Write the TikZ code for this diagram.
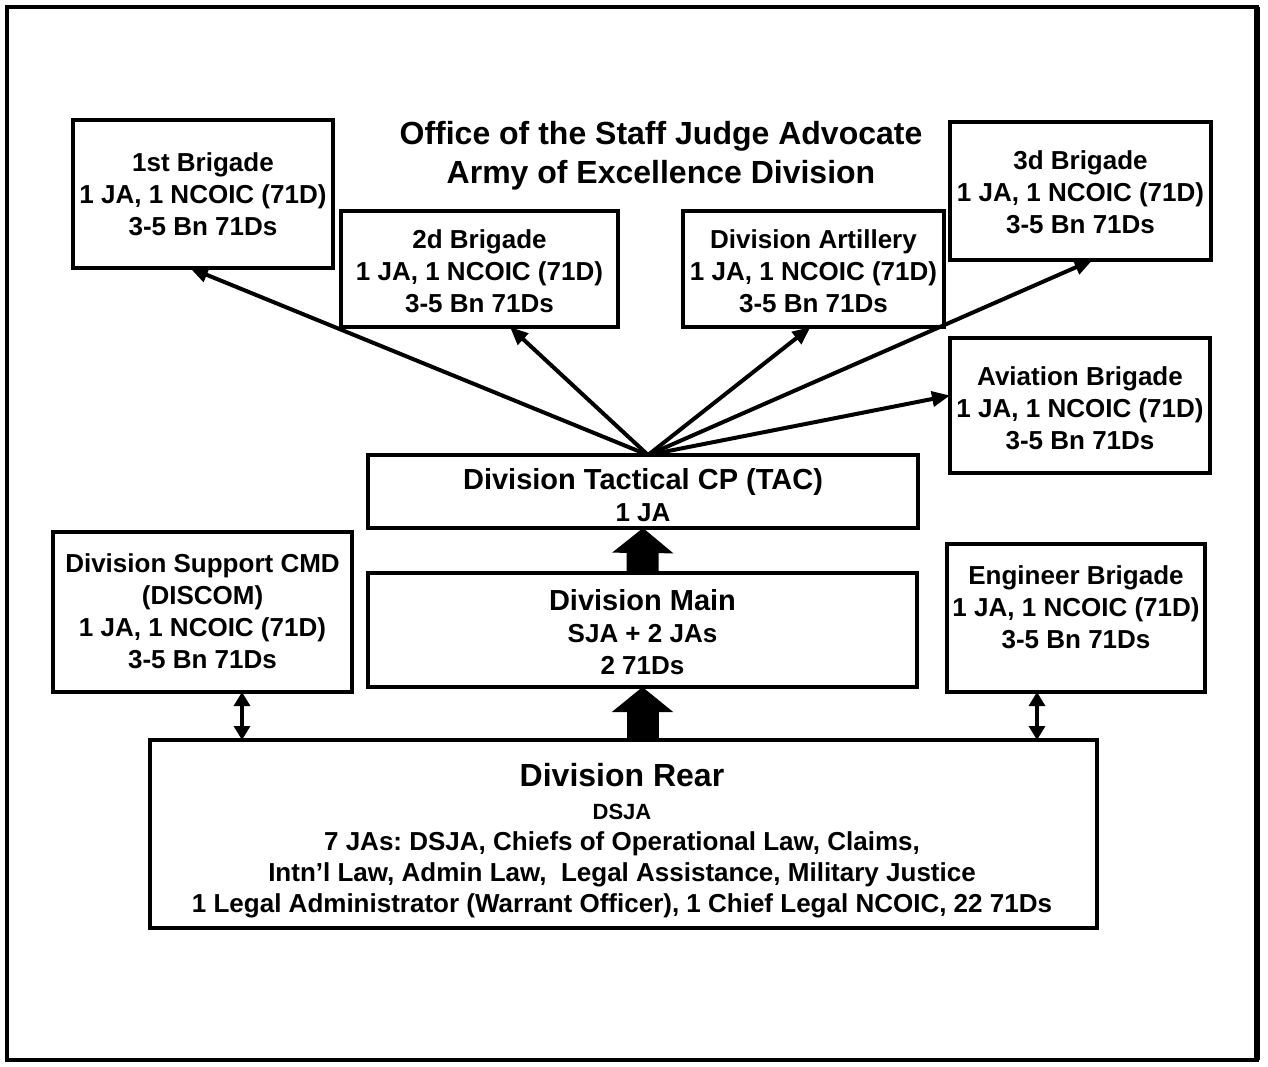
\documentclass[tikz,border=0pt]{standalone}
\usepackage{fontspec}
\setmainfont{Liberation Sans}
\usetikzlibrary{arrows.meta,calc}
\begin{document}
\frenchspacing
\begin{tikzpicture}[x=0.5pt,y=-0.5pt,
  box/.style={draw, line width=1.8pt, inner sep=0pt, outer sep=0pt},
  txt/.style={align=center, inner sep=0pt, font=\bfseries\fontsize{13}{16}\selectfont},
  thinarrow/.style={line width=2pt, -{Triangle[length=9pt,width=7.5pt]}},
  dblarrow/.style={line width=1.6pt, {Triangle[length=7pt,width=8pt]}-{Triangle[length=7pt,width=8pt]}},
  blockarrow/.style={line width=16pt, -{Triangle[length=12.5pt,width=30pt]}}]
\useasboundingbox (0,0) rectangle (1268,1066);
% frame
\draw[line width=2.2pt] (7,7) rectangle (1257,1060);
\draw[line width=3pt] (1257,7) -- (1257,1060);
% boxes
\node[box, minimum width=130pt, minimum height=74pt] (b1) at (203,194) {};
\node[box, minimum width=138.5pt, minimum height=58pt] (b2) at (479.5,269) {};
\node[box, minimum width=130.5pt, minimum height=58pt] (art) at (813.5,269) {};
\node[box, minimum width=130.5pt, minimum height=69pt] (b3) at (1080.5,191) {};
\node[box, minimum width=130pt, minimum height=67.5pt] (av) at (1080,405.5) {};
\node[box, minimum width=275pt, minimum height=36.5pt] (tac) at (643,491.5) {};
\node[box, minimum width=149.5pt, minimum height=80pt] (disc) at (202.5,612) {};
\node[box, minimum width=274.5pt, minimum height=57pt] (main) at (642.5,630) {};
\node[box, minimum width=129pt, minimum height=74pt] (eng) at (1076,618) {};
\node[box, minimum width=473.5pt, minimum height=94pt] (rear) at (623.5,834) {};
% texts
\node[txt, font=\bfseries\fontsize{16}{19.5}\selectfont] (title) at (661,156) {Office of the Staff Judge Advocate\\Army of Excellence Division};
\node[txt] (b1t) at (203,194.5) {1st Brigade\\1 JA, 1 NCOIC (71D)\\3-5 Bn 71Ds};
\node[txt] (b2t) at (479.5,271) {2d Brigade\\1 JA, 1 NCOIC (71D)\\3-5 Bn 71Ds};
\node[txt] (artt) at (813.5,271) {Division Artillery\\1 JA, 1 NCOIC (71D)\\3-5 Bn 71Ds};
\node[txt] (b3t) at (1080.5,192) {3d Brigade\\1 JA, 1 NCOIC (71D)\\3-5 Bn 71Ds};
\node[txt] (avt) at (1080,408) {Aviation Brigade\\1 JA, 1 NCOIC (71D)\\3-5 Bn 71Ds};
\node[txt] (tact) at (643,495) {{\fontsize{14.5}{16}\selectfont Division Tactical CP (TAC)}\\1 JA};
\node[txt] (disct) at (202.5,611) {Division Support CMD\\(DISCOM)\\1 JA, 1 NCOIC (71D)\\3-5 Bn 71Ds};
\node[txt] (maint) at (642.5,632) {{\fontsize{14.5}{16}\selectfont Division Main}\\SJA + 2 JAs\\2 71Ds};
\node[txt] (engt) at (1076,607) {Engineer Brigade\\1 JA, 1 NCOIC (71D)\\3-5 Bn 71Ds};
\node[txt, font=\bfseries\fontsize{13}{15.5}\selectfont] (reart) at (622,841) {{\fontsize{16}{18}\selectfont Division Rear}\\[1pt]{\fontsize{11}{15.5}\selectfont DSJA}\\7 JAs: DSJA, Chiefs of Operational Law, Claims,\\Intn’l Law, Admin Law,\ \ Legal Assistance, Military Justice\\1 Legal Administrator (Warrant Officer), 1 Chief Legal NCOIC, 22 71Ds};
% thin arrows from TAC
\coordinate (tacc) at ($(tac.north)+(5,0)$);
\draw[thinarrow] (tacc) -- ($(b1.south)+(-13,0)$);
\draw[thinarrow] (tacc) -- ($(b2.south)+(30.5,0)$);
\draw[thinarrow] (tacc) -- ($(art.south)+(-3,0)$);
\draw[thinarrow] (tacc) -- ($(b3.south)+(12,0)$);
\draw[thinarrow] (tacc) -- ($(av.west)+(0,-10)$);
% block arrows
\draw[blockarrow] (main.north) -- (tac.south);
\coordinate (r1) at (main.south |- rear.north);
\draw[blockarrow] (r1) -- (main.south);
% double arrows
\coordinate (d1) at ($(disc.south)+(39.5,0)$);
\draw[dblarrow] (d1) -- (d1 |- rear.north);
\coordinate (e1) at ($(eng.south)+(-39,0)$);
\draw[dblarrow] (e1) -- (e1 |- rear.north);
\end{tikzpicture}
\end{document}
